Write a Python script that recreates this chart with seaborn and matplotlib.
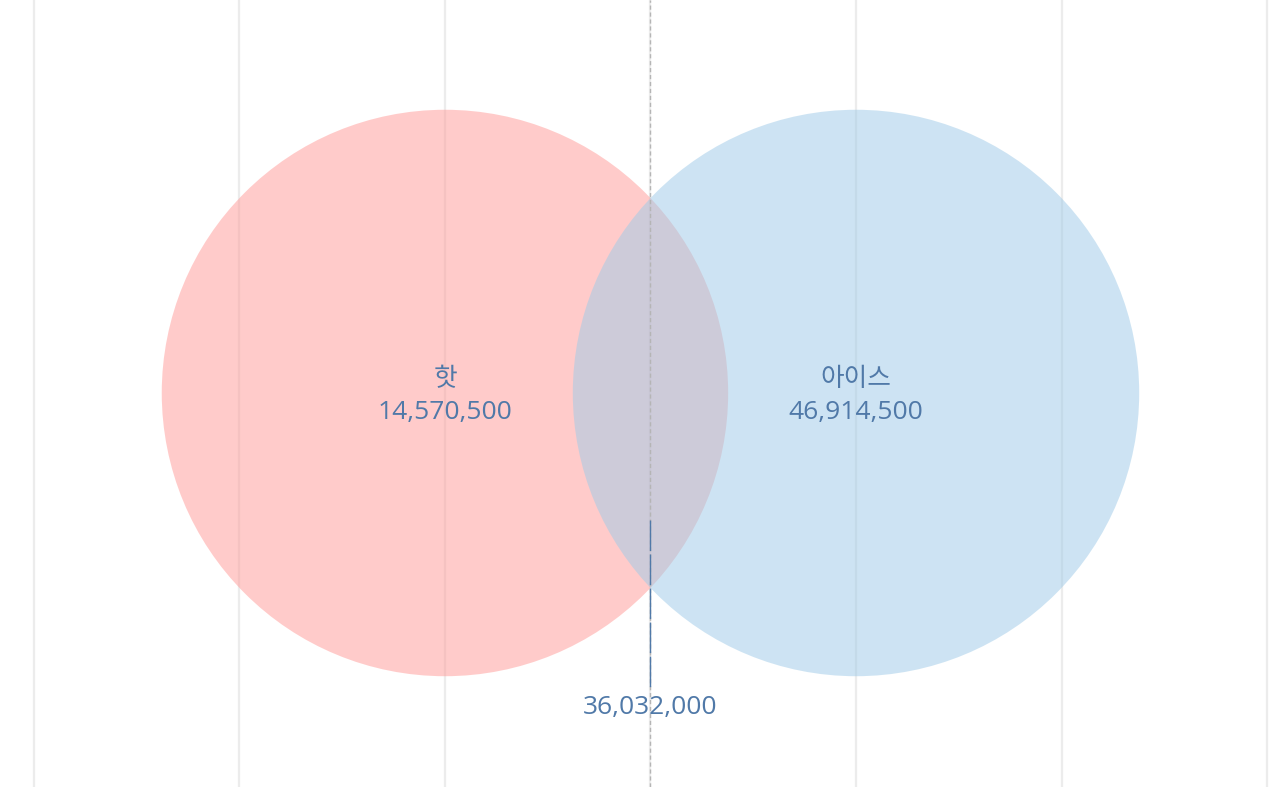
import matplotlib
matplotlib.use("Agg")
import matplotlib.pyplot as plt
from matplotlib.patches import Circle
import seaborn as sns

# data
categories = ["핫", "아이스"]
values = [14570500, 46914500]
overlap_value = 36032000

colors = ["#ff9d9a", "#a0cbe8"]
text_color = "#5079a8"
num_font = ['Open Sans', 'Noto Sans CJK KR', 'DejaVu Sans']
kr_font = ['Noto Sans CJK KR', 'DejaVu Sans']

sns.set_theme(style="whitegrid")
plt.rcParams['font.family'] = kr_font

fig = plt.figure(figsize=(12.8, 7.87), dpi=100)
ax = fig.add_axes([0, 0, 1, 1])

centers = [-1, 1]
radius = 1.378
for c, col in zip(centers, colors):
    ax.add_patch(Circle((c, 0), radius, facecolor=col, edgecolor="none", alpha=0.52, zorder=2))

# labels in the circles
for c, cat, v in zip(centers, categories, values):
    ax.text(c, 0.068, cat, ha="center", va="center", fontsize=18.5, color=text_color,
            family=kr_font, zorder=5)
    ax.text(c, -0.095, f"{v:,}", ha="center", va="center", fontsize=19, color=text_color,
            family=num_font, zorder=5)

# middle divider + overlap value
ax.axvline(0, color="#b5b5b5", lw=1, ls=(0, (3, 2)), zorder=3)
ax.plot([0, 0], [-0.618, -1.435], color=text_color, lw=1, ls=(0, (22, 2.5)), zorder=4)
ax.text(0, -1.53, f"{overlap_value:,}", ha="center", va="center", fontsize=19, color=text_color,
        family=num_font, zorder=5)

ax.set_xlim(-3.165, 3.063)
ax.set_ylim(-1.917, 1.912)
ax.set_xticks(range(-3, 4))
ax.set_yticks([])
ax.grid(axis="x", color="#ececec", lw=1.6)
ax.grid(axis="y", visible=False)
ax.tick_params(labelbottom=False, length=0)
for s in ax.spines.values():
    s.set_visible(False)
ax.set_facecolor("white")

fig.savefig("out.png", dpi=100)
